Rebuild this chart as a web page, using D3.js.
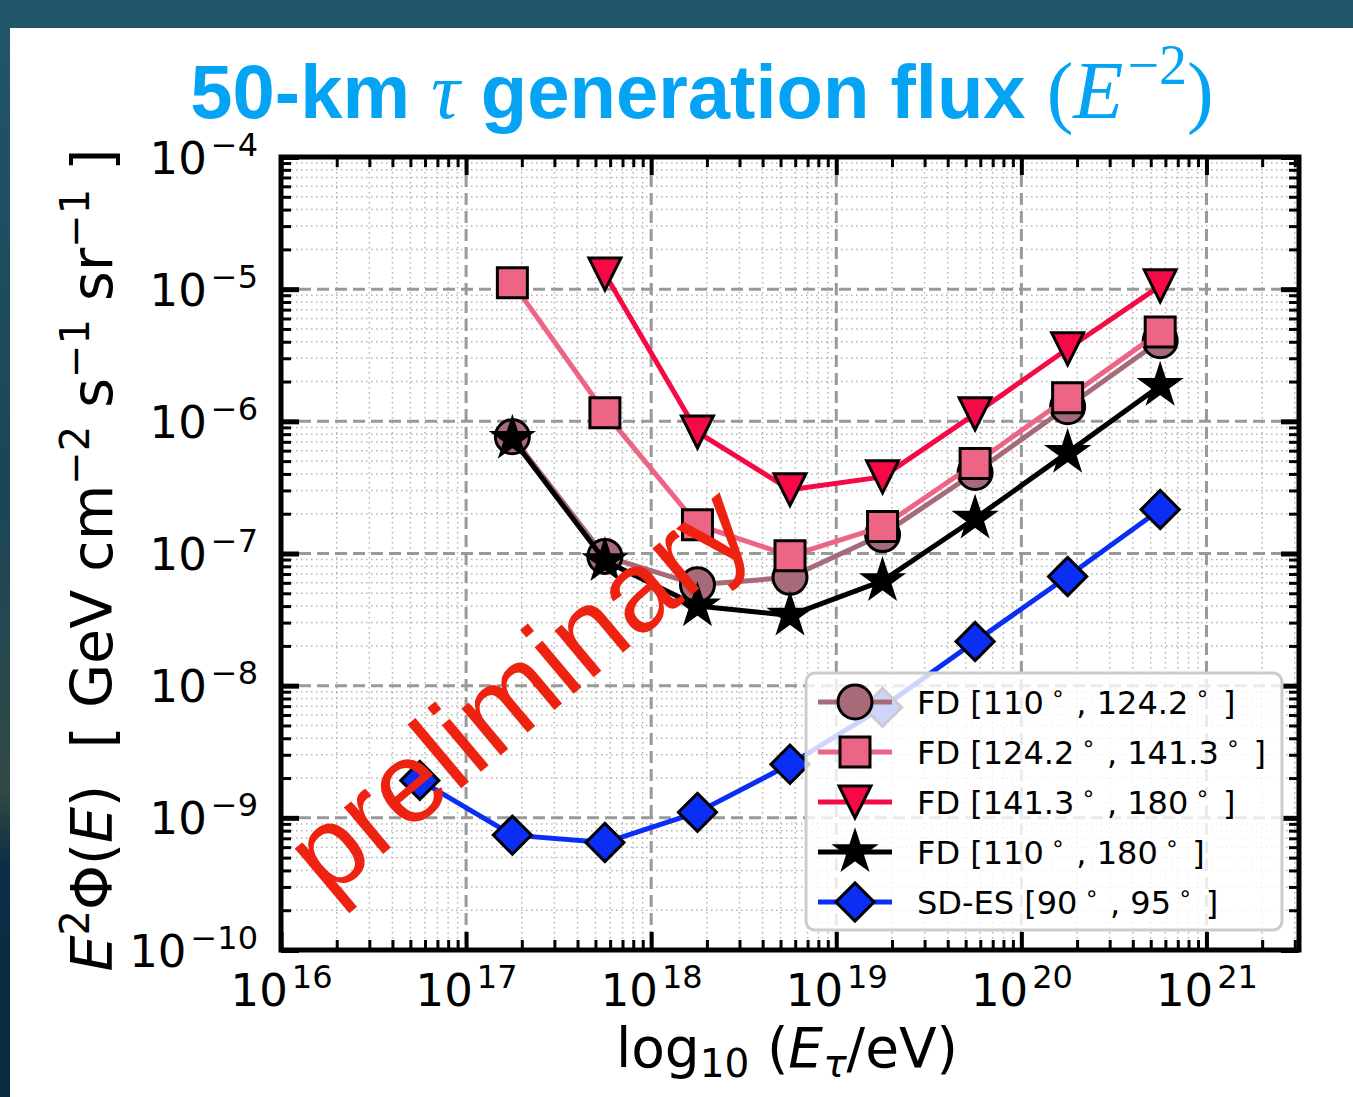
<!DOCTYPE html>
<html>
<head>
<meta charset="utf-8">
<script src="https://cdn.jsdelivr.net/npm/d3@7"></script>
<style>
  body { margin: 0; background: #163a4c; }
  svg { display: block; }
</style>
</head>
<body>
<script>
// energies (log10 E / eV) of the bin centres
const logEnergies = [16.75, 17.25, 17.75, 18.25, 18.75, 19.25, 19.75, 20.25, 20.75];

// E^2 Phi values, GeV cm^-2 s^-1 sr^-1
const fdLow = [null, 7.65e-7, 9.5e-8, 5.8e-8, 6.6e-8, 1.39e-7, 4.1e-7, 1.29e-6, 4.07e-6];
const fdMid = [null, 1.12e-5, 1.16e-6, 1.65e-7, 9.6e-8, 1.6e-7, 4.8e-7, 1.51e-6, 4.75e-6];
const fdHigh = [null, null, 1.3e-5, 8.3e-7, 3.04e-7, 3.8e-7, 1.14e-6, 3.54e-6, 1.06e-5];
const fdAll = [null, 7.4e-7, 8.8e-8, 4.0e-8, 3.4e-8, 6.2e-8, 1.84e-7, 5.8e-7, 1.86e-6];
const sdEs = [1.92e-9, 7.4e-10, 6.5e-10, 1.1e-9, 2.54e-9, 6.85e-9, 2.16e-8, 6.7e-8, 2.15e-7];

const seriesValues = [fdLow, fdMid, fdHigh, fdAll, sdEs];
const seriesDetector = ["FD", "FD", "FD", "FD", "SD-ES"];
const seriesAngles = [["110", "124.2"], ["124.2", "141.3"], ["141.3", "180"], ["110", "180"], ["90", "95"]];

// tick decades
const xDecades = [16, 17, 18, 19, 20, 21];
const yDecades = [-10, -9, -8, -7, -6, -5, -4];

const width = 1353;
const height = 1097;
const box = {left: 281, right: 1299, top: 157, bottom: 950};

const styles = [
  {color: "#a66a78", marker: "circle"},
  {color: "#ec6585", marker: "square"},
  {color: "#f50a45", marker: "triangle"},
  {color: "#000000", marker: "star"},
  {color: "#0b2ef5", marker: "diamond"}
];

const svg = d3.select("body").append("svg")
  .attr("width", width)
  .attr("height", height);

// dark backdrop behind the white panel
const grad = svg.append("defs").append("linearGradient")
  .attr("id", "bg").attr("x1", 0).attr("y1", 0).attr("x2", 0).attr("y2", 1);
[[0, "#215668"], [0.45, "#1b4558"], [0.72, "#314a45"], [0.79, "#0c2d45"], [1, "#0a2a40"]]
  .forEach(s => grad.append("stop").attr("offset", s[0]).attr("stop-color", s[1]));
svg.append("rect").attr("width", width).attr("height", height).attr("fill", "url(#bg)");
svg.append("rect").attr("x", 10).attr("y", 28).attr("width", width - 10).attr("height", height - 28)
  .attr("fill", "#ffffff");

const xScale = d3.scaleLog()
  .domain([1e16, Math.pow(10, 21.5)])
  .range([box.left, box.right]);

const yScale = d3.scaleLog()
  .domain([1e-10, 1e-4])
  .range([box.bottom, box.top]);

const xMajor = xDecades.map(d => Math.pow(10, d));
const yMajor = yDecades.map(d => Math.pow(10, d));
const xMinor = [];
xDecades.forEach(d => d3.range(2, 10).forEach(k => {
  const v = k * Math.pow(10, d);
  if (v < xScale.domain()[1]) xMinor.push(v);
}));
const yMinor = [];
yDecades.slice(0, -1).forEach(d => d3.range(2, 10).forEach(k => yMinor.push(k * Math.pow(10, d))));

// grid
const grid = svg.append("g");
grid.selectAll(".mx").data(xMinor).enter().append("line")
  .attr("x1", d => xScale(d)).attr("x2", d => xScale(d))
  .attr("y1", box.top).attr("y2", box.bottom)
  .attr("stroke", "#b4b4b4").attr("stroke-width", 1.5).attr("stroke-dasharray", "1.5,3.5");
grid.selectAll(".my").data(yMinor).enter().append("line")
  .attr("y1", d => yScale(d)).attr("y2", d => yScale(d))
  .attr("x1", box.left).attr("x2", box.right)
  .attr("stroke", "#b4b4b4").attr("stroke-width", 1.5).attr("stroke-dasharray", "1.5,3.5");
grid.selectAll(".Mx").data(xMajor).enter().append("line")
  .attr("x1", d => xScale(d)).attr("x2", d => xScale(d))
  .attr("y1", box.top).attr("y2", box.bottom)
  .attr("stroke", "#999999").attr("stroke-width", 3).attr("stroke-dasharray", "12,6");
grid.selectAll(".My").data(yMajor).enter().append("line")
  .attr("y1", d => yScale(d)).attr("y2", d => yScale(d))
  .attr("x1", box.left).attr("x2", box.right)
  .attr("stroke", "#999999").attr("stroke-width", 3).attr("stroke-dasharray", "12,6");

// markers
function markerPath(kind) {
  if (kind === "circle") return d3.symbol(d3.symbolCircle, Math.PI * 17 * 17)();
  if (kind === "square") return d3.symbol(d3.symbolSquare, 30 * 30)();
  if (kind === "diamond") return d3.symbol(d3.symbolSquare, 27 * 27)();
  if (kind === "triangle") return "M0,16L-16,-16L16,-16Z";
  if (kind === "star") {
    const p = d3.path();
    for (let i = 0; i < 10; i++) {
      const r = i % 2 === 0 ? 20 : 20 * 0.382;
      const a = -Math.PI / 2 + i * Math.PI / 5;
      if (i === 0) p.moveTo(r * Math.cos(a), r * Math.sin(a));
      else p.lineTo(r * Math.cos(a), r * Math.sin(a));
    }
    p.closePath();
    return p.toString();
  }
}

const line = d3.line()
  .defined(d => d.v != null)
  .x(d => xScale(Math.pow(10, d.e)))
  .y(d => yScale(d.v));

seriesValues.forEach((vals, i) => {
  const st = styles[i];
  const pts = vals.map((v, j) => ({e: logEnergies[j], v: v}));
  const g = svg.append("g");
  g.append("path").datum(pts)
    .attr("fill", "none")
    .attr("stroke", st.color)
    .attr("stroke-width", 5)
    .attr("stroke-linejoin", "round")
    .attr("d", line);
  g.selectAll("path.m").data(pts.filter(d => d.v != null)).enter().append("path")
    .attr("class", "m")
    .attr("d", markerPath(st.marker))
    .attr("transform", d => `translate(${xScale(Math.pow(10, d.e))},${yScale(d.v)})` +
      (st.marker === "diamond" ? " rotate(45)" : ""))
    .attr("fill", st.color)
    .attr("stroke", "#000")
    .attr("stroke-width", 3)
    .attr("stroke-linejoin", "miter");
});

// axes, ticks point inwards on all four sides
function styleTicks(g, w) {
  g.select(".domain").remove();
  g.selectAll(".tick line").attr("stroke", "#000").attr("stroke-width", w);
}
function supLabel(textSel, anchor) {
  textSel.each(function(d) {
    const e = Math.round(Math.log10(d));
    const t = d3.select(this).text(null)
      .attr("text-anchor", anchor)
      .attr("fill", "#000")
      .style("font-family", "DejaVu Sans")
      .style("font-size", "45px");
    t.append("tspan").text("10");
    t.append("tspan").attr("dx", 4).attr("dy", -18).style("font-size", "32px")
      .text(e < 0 ? "\u2212" + Math.abs(e) : String(e));
  });
}

const bottom = svg.append("g").attr("transform", `translate(0,${box.bottom})`)
  .call(d3.axisBottom(xScale).tickValues(xMinor).tickSizeInner(-10).tickSizeOuter(0).tickFormat(""));
styleTicks(bottom, 3);
const bottomMajor = svg.append("g").attr("transform", `translate(0,${box.bottom})`)
  .call(d3.axisBottom(xScale).tickValues(xMajor).tickSizeInner(-18).tickSizeOuter(0));
styleTicks(bottomMajor, 4);
bottomMajor.selectAll(".tick text").attr("y", 56).attr("dy", null).call(supLabel, "middle");

const topAx = svg.append("g").attr("transform", `translate(0,${box.top})`)
  .call(d3.axisTop(xScale).tickValues(xMinor).tickSizeInner(-10).tickSizeOuter(0).tickFormat(""));
styleTicks(topAx, 3);
const topMajor = svg.append("g").attr("transform", `translate(0,${box.top})`)
  .call(d3.axisTop(xScale).tickValues(xMajor).tickSizeInner(-18).tickSizeOuter(0).tickFormat(""));
styleTicks(topMajor, 4);

const left = svg.append("g").attr("transform", `translate(${box.left},0)`)
  .call(d3.axisLeft(yScale).tickValues(yMinor).tickSizeInner(-10).tickSizeOuter(0).tickFormat(""));
styleTicks(left, 3);
const leftMajor = svg.append("g").attr("transform", `translate(${box.left},0)`)
  .call(d3.axisLeft(yScale).tickValues(yMajor).tickSizeInner(-18).tickSizeOuter(0));
styleTicks(leftMajor, 5);
leftMajor.selectAll(".tick text").attr("x", -23).attr("dy", 16).call(supLabel, "end");

const right = svg.append("g").attr("transform", `translate(${box.right},0)`)
  .call(d3.axisRight(yScale).tickValues(yMinor).tickSizeInner(-10).tickSizeOuter(0).tickFormat(""));
styleTicks(right, 3);
const rightMajor = svg.append("g").attr("transform", `translate(${box.right},0)`)
  .call(d3.axisRight(yScale).tickValues(yMajor).tickSizeInner(-18).tickSizeOuter(0).tickFormat(""));
styleTicks(rightMajor, 5);

svg.append("rect")
  .attr("x", box.left).attr("y", box.top)
  .attr("width", box.right - box.left).attr("height", box.bottom - box.top)
  .attr("fill", "none").attr("stroke", "#000").attr("stroke-width", 5);

// watermark
svg.append("text")
  .attr("transform", "translate(328,900) rotate(-40)")
  .attr("fill", "#ee2211")
  .style("font-family", "Liberation Sans")
  .style("font-size", "115px")
  .text("preliminary");

// legend
const leg = svg.append("g");
leg.append("rect")
  .attr("x", 806).attr("y", 673).attr("width", 476).attr("height", 257)
  .attr("rx", 9).attr("ry", 9)
  .attr("fill", "#ffffff").attr("fill-opacity", 0.8)
  .attr("stroke", "#cccccc").attr("stroke-width", 3);
styles.forEach((st, i) => {
  const yy = 702 + i * 50;
  leg.append("line").attr("x1", 818).attr("x2", 892).attr("y1", yy).attr("y2", yy)
    .attr("stroke", st.color).attr("stroke-width", 5);
  leg.append("path").attr("d", markerPath(st.marker))
    .attr("transform", `translate(855,${yy})` + (st.marker === "diamond" ? " rotate(45)" : ""))
    .attr("fill", st.color).attr("stroke", "#000").attr("stroke-width", 3);
  const t = leg.append("text").attr("x", 917).attr("y", yy + 12)
    .style("font-family", "DejaVu Sans").style("font-size", "32px").attr("fill", "#000");
  t.append("tspan").text(`${seriesDetector[i]} [${seriesAngles[i][0]}`);
  t.append("tspan").attr("dx", 7).attr("dy", -13).style("font-size", "23px").text("\u2218");
  t.append("tspan").attr("dx", 1).attr("dy", 13).text(` , ${seriesAngles[i][1]}`);
  t.append("tspan").attr("dx", 7).attr("dy", -13).style("font-size", "23px").text("\u2218");
  t.append("tspan").attr("dx", 3).attr("dy", 13).text(" ]");
});

// title
const title = svg.append("text")
  .attr("x", 702).attr("y", 118)
  .attr("text-anchor", "middle")
  .attr("fill", "#04a3f4")
  .style("font-family", "Liberation Sans")
  .style("font-weight", "bold")
  .style("font-size", "76px");
title.append("tspan").text("50-km ");
title.append("tspan").style("font-family", "Liberation Serif").style("font-style", "italic")
  .style("font-weight", "normal").style("font-size", "80px").text("\u03c4");
title.append("tspan").text(" generation flux ");
title.append("tspan").style("font-family", "Liberation Serif").style("font-weight", "normal")
  .style("font-size", "80px").text("(");
title.append("tspan").style("font-family", "Liberation Serif").style("font-style", "italic")
  .style("font-weight", "normal").style("font-size", "82px").text("E");
title.append("tspan").attr("dx", 4).attr("dy", -34).style("font-family", "Liberation Serif")
  .style("font-weight", "normal").style("font-size", "56px").text("\u22122");
title.append("tspan").attr("dy", 34).style("font-family", "Liberation Serif")
  .style("font-weight", "normal").style("font-size", "80px").text(")");

// axis labels
const xl = svg.append("text")
  .attr("x", 787).attr("y", 1067)
  .attr("text-anchor", "middle")
  .style("font-family", "DejaVu Sans").style("font-size", "55px").attr("fill", "#000");
xl.append("tspan").text("log");
xl.append("tspan").attr("dy", 10).style("font-size", "39px").text("10");
xl.append("tspan").attr("dy", -10).text(" (");
xl.append("tspan").style("font-style", "italic").text("E");
xl.append("tspan").attr("dy", 10).style("font-size", "39px").style("font-style", "italic").text("\u03c4");
xl.append("tspan").attr("dy", -10).text("/eV)");

const yl = svg.append("text")
  .attr("transform", "translate(112,560) rotate(-90)")
  .attr("text-anchor", "middle")
  .style("font-family", "DejaVu Sans").style("font-size", "57px").attr("fill", "#000");
yl.append("tspan").style("font-style", "italic").text("E");
yl.append("tspan").attr("dy", -23).style("font-size", "40px").text("2");
yl.append("tspan").attr("dy", 23).text("\u03a6(");
yl.append("tspan").style("font-style", "italic").text("E");
yl.append("tspan").text(")\u00a0\u00a0[ GeV cm");
yl.append("tspan").attr("dy", -23).style("font-size", "40px").text("\u22122");
yl.append("tspan").attr("dy", 23).text(" s");
yl.append("tspan").attr("dy", -23).style("font-size", "40px").text("\u22121");
yl.append("tspan").attr("dy", 23).text(" sr");
yl.append("tspan").attr("dy", -23).style("font-size", "40px").text("\u22121");
yl.append("tspan").attr("dy", 23).text(" ]");
</script>
</body>
</html>
